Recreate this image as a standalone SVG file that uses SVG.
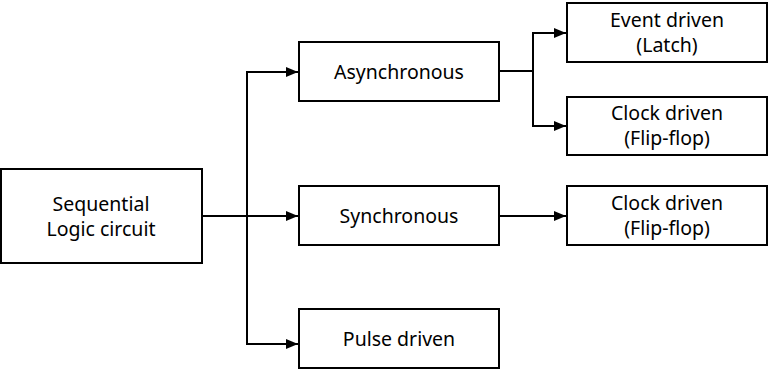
<svg xmlns="http://www.w3.org/2000/svg" width="769" height="369" viewBox="0 0 769 369">
<style>
rect{fill:#fff;stroke:#000;stroke-width:2}
text{font-family:"Noto Sans","Open Sans",sans-serif;font-size:19.5px;fill:#000;text-anchor:middle}
.c path{fill:none;stroke:#000;stroke-width:2}
</style>
<defs>
<marker id="a" markerWidth="12" markerHeight="10" refX="12" refY="5" orient="auto" markerUnits="userSpaceOnUse">
<path d="M0,0 L12,5 L0,10 Z" fill="#000"/>
</marker>
</defs>
<g class="c">
<path d="M202,216 H298" marker-end="url(#a)"/>
<path d="M247,216 V72 H298" marker-end="url(#a)"/>
<path d="M247,216 V344 H298" marker-end="url(#a)"/>
<path d="M499,71 H533"/>
<path d="M533,71 V33 H566" marker-end="url(#a)"/>
<path d="M533,71 V126 H566" marker-end="url(#a)"/>
<path d="M499,216 H566" marker-end="url(#a)"/>
</g>
<g id="seq"><rect x="1" y="169" width="201" height="94"/><text x="101" y="211">Sequential</text><text x="101" y="236">Logic circuit</text></g>
<g id="async"><rect x="299" y="42" width="200" height="59"/><text x="399" y="79">Asynchronous</text></g>
<g id="sync"><rect x="299" y="186" width="200" height="59"/><text x="399" y="223">Synchronous</text></g>
<g id="pulse"><rect x="299" y="309" width="200" height="59"/><text x="399" y="346">Pulse driven</text></g>
<g id="event"><rect x="567" y="3" width="200" height="59"/><text x="667" y="27">Event driven</text><text x="667" y="52">(Latch)</text></g>
<g id="clock1"><rect x="567" y="97" width="200" height="58"/><text x="667" y="120">Clock driven</text><text x="667" y="145">(Flip-flop)</text></g>
<g id="clock2"><rect x="567" y="186" width="200" height="59"/><text x="667" y="210">Clock driven</text><text x="667" y="235">(Flip-flop)</text></g>
</svg>
